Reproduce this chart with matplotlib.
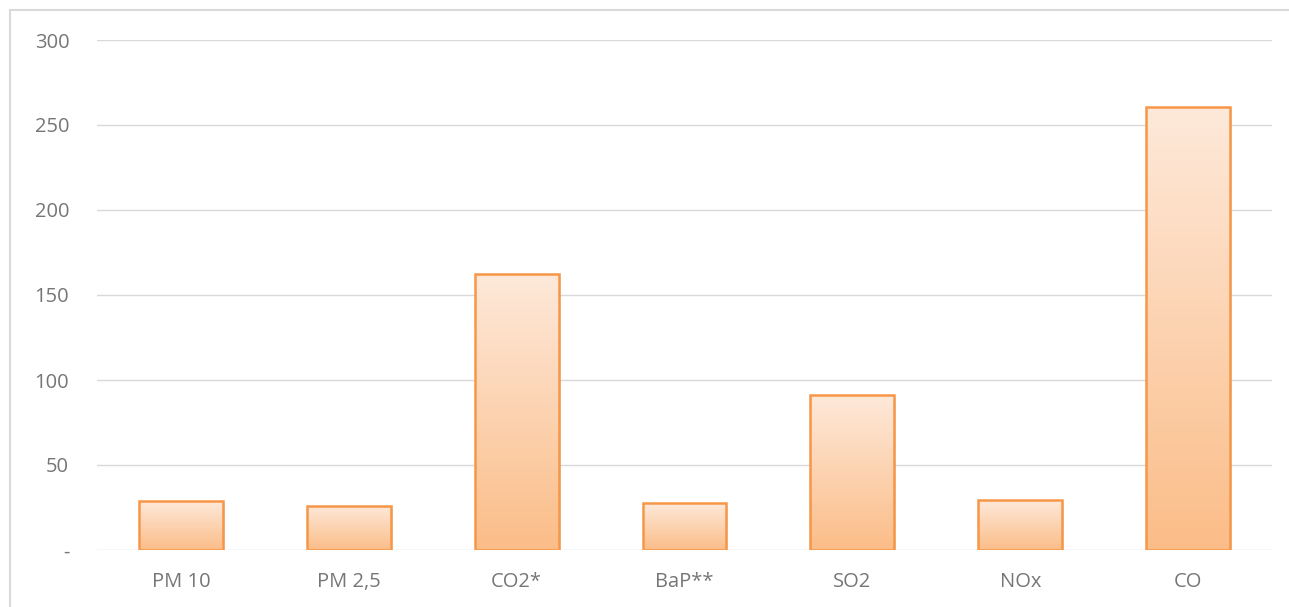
import numpy as np
import matplotlib.pyplot as plt
import matplotlib.patches as mpatches
from matplotlib.lines import Line2D
from matplotlib.colors import LinearSegmentedColormap

categories = ['PM 10', 'PM 2,5', 'CO2*', 'BaP**', 'SO2', 'NOx', 'CO']
values = [28.8, 25.9, 162.4, 27.6, 91.2, 29.4, 260.6]
yticks = [0, 50, 100, 150, 200, 250, 300]
ytick_labels = ['-', '50', '100', '150', '200', '250', '300']

plt.rcParams['font.family'] = ['Open Sans', 'DejaVu Sans']

fig = plt.figure(figsize=(12.89, 6.07), dpi=100)
# outer chart border: only top and left edges are inside the picture
top_y = 1 - 10 / 607
left_x = 10 / 1289
fig.add_artist(Line2D([left_x, 1], [top_y, top_y], transform=fig.transFigure,
                      color='#D9D9D9', linewidth=1.5))
fig.add_artist(Line2D([left_x, left_x], [0, top_y], transform=fig.transFigure,
                      color='#D9D9D9', linewidth=1.5))
ax = fig.add_axes([97 / 1289, 57 / 607, 1175 / 1289, 510 / 607])

x = np.arange(len(categories))
width = 0.5
cmap = LinearSegmentedColormap.from_list('peach', ['#FBBD88', '#FEE9DA'])
grad = np.linspace(0, 1, 256).reshape(-1, 1)

bars = ax.bar(x, values, width=width, facecolor='none', edgecolor='#F79646',
              linewidth=1.8, zorder=3)
for b in bars:
    x0, y0 = b.get_x(), b.get_y()
    w, h = b.get_width(), b.get_height()
    # soft shadow
    ax.add_patch(mpatches.Rectangle((x0 + 0.012, y0 - 1.2), w, h, facecolor='#000000',
                                    alpha=0.08, edgecolor='none', zorder=1))
    im = ax.imshow(grad, cmap=cmap, extent=[x0, x0 + w, y0, y0 + h], origin='lower',
                   aspect='auto', zorder=2)
    im.set_clip_path(b)

ax.set_xlim(-0.5, len(categories) - 0.5)
ax.set_ylim(0, 300)
ax.set_xticks(x)
ax.set_xticklabels(categories)
ax.set_yticks(yticks)
ax.set_yticklabels(ytick_labels)
ax.tick_params(axis='both', length=0, labelsize=14.5, colors='#767676')
ax.tick_params(axis='x', pad=16)
ax.tick_params(axis='y', pad=20)
ax.grid(axis='y', color='#D9D9D9', linewidth=1, zorder=0)
ax.set_axisbelow(True)
for s in ax.spines.values():
    s.set_visible(False)

fig.savefig('out.png', dpi=100)
